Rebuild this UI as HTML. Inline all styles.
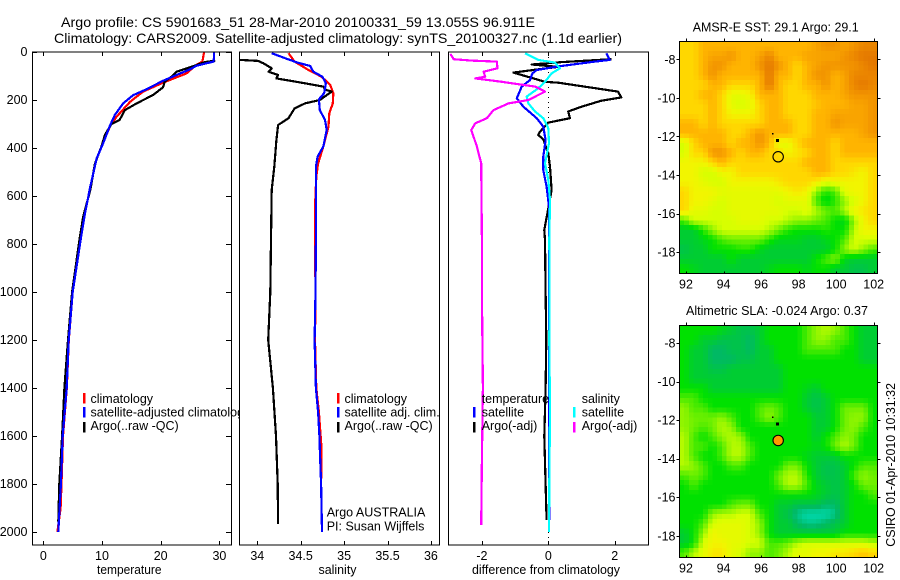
<!DOCTYPE html>
<html lang="en">
<head>
<meta charset="utf-8">
<title>Argo profile 5901683</title>
<style>
html,body{margin:0;padding:0;background:#fff;}
svg{display:block;}
text{font-family:"Liberation Sans",sans-serif;font-size:12.5px;fill:#000;}
</style>
</head>
<body>
<svg id="chart" width="900" height="580" viewBox="0 0 900 580" xmlns="http://www.w3.org/2000/svg">
<rect width="900" height="580" fill="#fff"/>
<text x="61" y="27" textLength="474" lengthAdjust="spacingAndGlyphs" style="font-size:14px">Argo profile: CS 5901683_51 28-Mar-2010 20100331_59 13.055S 96.911E</text>
<text x="54" y="43" textLength="568" lengthAdjust="spacingAndGlyphs" style="font-size:14px">Climatology: CARS2009. Satellite-adjusted climatology: synTS_20100327.nc (1.1d earlier)</text>
<g id="p1"></g>
<g id="p2"></g>
<g id="p3"></g>
<g id="m1"></g>
<g id="m2"></g>
<text x="692.7" y="31.5" textLength="166" lengthAdjust="spacingAndGlyphs">AMSR-E SST: 29.1 Argo: 29.1</text>
<text x="686" y="315" textLength="182" lengthAdjust="spacingAndGlyphs">Altimetric SLA: -0.024 Argo: 0.37</text>
<text transform="translate(895,546.7) rotate(-90)" textLength="163.7" lengthAdjust="spacingAndGlyphs">CSIRO 01-Apr-2010 10:31:32</text>
</svg>
<script>
// ---- shared axis data
const depthTicks = [0,200,400,600,800,1000,1200,1400,1600,1800,2000];
const tempTicks = [0,10,20,30];
const salTicks = [34,34.5,35,35.5,36];
const diffTicks = [-2,0,2];
const lonTicks = [92,94,96,98,100,102];
const latTicks = [8,10,12,14,16,18];

// ---- temperature panel (depth, value)
const tempClimDepth = [0,40,55,89,128,165,207,269,308,360,443,561,672,776,1000,1200,1400,1600,1800,1900,2000];
const tempClimValue = [27.4,27.1,26,24.4,20.4,17,14.8,12.5,11.4,10.5,9.1,8,7.1,6.4,5,4.35,4,3.35,3.1,2.95,2.4];
const tempArgoDepth = [36,42,57,82,100,123,147,179,214,242,283,300,346,394,464,575,686,776,1000,1200,1400,1600,1800,1957];
const tempArgoValue = [29.3,27.5,25.8,22.7,22,20.7,20.4,18.7,15.9,13.9,13,11.6,10.5,9.9,8.8,8,6.8,6.2,4.9,4.2,3.6,3.2,2.73,2.55];
const tempSatDepth = [0,20,40,57,72,96,120,155,180,214,262,304,380,443,561,672,776,1000,1200,1400,1600,1800,2000];
const tempSatValue = [29.1,29.1,29,26.1,25,22.7,20.4,17.6,15.3,13.6,12.2,11.4,10.2,9.1,8,7.1,6.4,5,4.33,3.98,3.3,3,2.55];

// ---- salinity panel (depth, value)
const salClimDepth = [5,40,75,103,137,172,214,255,311,394,464,519,644,783,1000,1200,1400,1500,1650,1800,2000];
const salClimValue = [34.36,34.43,34.59,34.74,34.84,34.875,34.87,34.83,34.82,34.76,34.7,34.68,34.665,34.665,34.67,34.665,34.68,34.71,34.74,34.735,34.745];
const salArgoDepth = [33,37,47,68,82,96,110,128,144,158,165,200,214,235,276,304,367,478,575,783,1000,1200,1400,1600,1800,1967];
const salArgoValue = [33.8,34.01,34.07,34.166,34.13,34.24,34.22,34.51,34.76,34.79,34.857,34.72,34.55,34.43,34.36,34.24,34.22,34.196,34.166,34.158,34.15,34.125,34.18,34.215,34.235,34.24];
const salSatDepth = [5,26,45,58,82,103,130,172,197,242,283,325,394,436,478,783,1000,1200,1400,1500,1600,1700,1800,2000];
const salSatValue = [34.166,34.32,34.47,34.61,34.645,34.75,34.79,34.77,34.71,34.72,34.78,34.8,34.76,34.695,34.675,34.675,34.67,34.66,34.675,34.7,34.715,34.725,34.735,34.745];

// ---- difference panel (depth, value)
const diffTArgoDepth = [30,42,52,62,72,86,100,124,128,165,189,203,228,248,276,294,332,346,364,422,478,575,651,742,783,1000,1200,1400,1600,1800,1950];
const diffTArgoValue = [1.9,0.4,-0.5,0.3,-0.3,-1.05,-0.7,-0.1,0.3,2.1,2.2,1.6,1,0.6,0.65,0,-0.25,-0.3,-0.15,0,0.05,0.1,0,-0.12,-0.1,-0.08,-0.06,-0.08,-0.12,-0.08,-0.05];
const diffTSatDepth = [5,33,40,60,75,89,117,144,193,228,276,311,367,436,492,561,644,783,1000,1400,1600,1950];
const diffTSatValue = [1.75,1.85,1.4,0.3,-0.35,-0.48,-0.55,-0.8,-0.95,-0.75,-0.35,-0.15,-0.08,-0.15,-0.15,-0.05,0.02,0.02,0.03,0.03,0.03,0.03];
const diffSSatDepth = [5,33,44,68,89,124,151,186,214,248,276,318,381,464,533,617,783,1000,1200,1500,1800,2000];
const diffSSatValue = [-0.7,-0.3,0.2,0.35,0.1,-0.1,-0.3,-0.65,-0.6,-0.4,-0.15,0,0.02,-0.1,0,0.05,0.03,0.04,0.03,0.05,0.03,0.02];
const diffSArgoDepth = [8,30,36,40,68,82,103,110,124,144,165,200,214,242,276,297,325,394,464,783,1000,1400,1700,1970];
const diffSArgoValue = [-2.95,-2.85,-2.3,-1.55,-1.53,-1.95,-1.9,-2.2,-1.4,-0.4,-0.1,-0.6,-1.2,-1.65,-1.85,-2.2,-2.32,-2.15,-2.02,-2,-2,-1.97,-2,-2.02];

// ---- map data: one row per half degree of latitude, one value per half degree of longitude
const sstGrid = [
[7,7,8,8,8,8,8,8,8,8,8,8,8,8,8.5,9,9,8.5,9,9.5,9.5],
[7,7,8,8.5,8.5,9,8,8,8.5,9.5,8,8,8,8.5,8.5,8.5,8.5,9,9.5,10,10],
[7,7,8,9,9,8,8,8,9,10,9,8,7,8,8.5,9,9,9,9,9.5,10],
[7,7,8,9,8,8,8,8,8,10,8,8,7,8,9,9,8,8.5,9.5,9.5,9.5],
[7,7,7,8,8,7,7,7,8,10,8,7,7,8,8,9,8,8.5,9.5,10,9.5],
[7,7,8,8,7,5.5,5.5,6,8,8,8,7,7,7,8,8,8,8.5,9,9,9],
[7,7,7,8,7,5.5,5,5.5,7,8,8,7,7,7,7.5,8,8,8,8.5,8.5,9],
[7,7,7,8,7,6,6,6,7,8,8,7,7,7,8,8,8.5,8.5,8.5,8.5,9],
[8,8,7,8,7,7,7,7,7,8,8,8,7,7,8,8,9,8.5,8.5,8.5,9],
[8,8,8,8,8,7,7,8,9,8,8,8,7,7,8,8,8,8,8,8.5,9],
[5,7,8,8,8,7,8,8,9,8,5.5,5.5,7,8,8,8,7,8,8,8,8],
[5,7,7,9,9,8,7,8,8,7,7,6,6.5,7,8,8,7,8,8,8,8],
[6,6,6,7,8,7,7,7,7,7,7,7,7,8,8,8,7,7,7,7,7],
[6,6,5,5,6,6,7,7,7,7,7,7,7,7,8,8,7,7,6.5,6,7],
[6,6,5.5,5,5,6,6,6,6,6,6.5,7,7,7,6.5,5.5,6,6,6,6,7],
[7,6,6,6,5.5,5.5,5.5,5.5,5.5,5.5,5.5,6,6.5,6,4,2.5,3,5.5,6,6,7],
[7,6,6,5.5,5,5.5,5.5,5.5,5.5,5.5,5,5.5,5.5,5.5,3,1.5,2.5,4,5,6,7],
[7,5.5,5.5,5,5,5.5,5.5,5.5,5.5,5.5,5.5,5,5,5.5,4.5,3.5,3,4.5,6,6.5,7],
[3,5,5,5,5,5,5.5,5.5,5.5,5,5,4.5,4,4,3.5,3,2,1.5,4,6,7],
[1,1,2.5,4,5,5,5,5,5,4.5,3.5,2.5,2,2,2,2.5,2,2,4.5,6,6],
[1,1,1.5,2,3,3.5,3.5,3.5,3.5,2.5,1.5,1.5,1.5,1,1,1.5,2,3,5,5,5],
[0.5,1,1,2,2,2,2.5,2.5,1.5,1,1,1,1,1,1,1,2,4,5,4,3],
[1,1,1,1,1,2,1,1,1,1,1,1,1,1,2,3,4,1.5,1,1,1],
[2,1.5,1,1,1,1,1,1,1,1.5,2,2,2,1.5,2,2,1,1,0.5,0.5,1]
];
const slaGrid = [
[2,2,2,2,1.5,1,0.5,0.5,1,2,2,2,2,3,4,4.5,4,3,2,1,1],
[2,2,1,1,0.5,0.5,0.5,0,1,2,2,2,2,3,4,4,3,3,2,1,1],
[2,1,1,0,0,0.5,0.5,0,1,1,2,2,2,3,3,3,3,2,2,1,1],
[2,1,1,0,0,0,0.5,0.5,1,1,2,2,2,2,2,2,2,2,2,1,1],
[2,1,1,0.5,0.5,1,1,1,1,1,1,2,2,2,2,2,2,2,2,2,2],
[2,1,1,1,1,1,1,1,1,1,1,2,2,2,2,2,2,2,2,2,2],
[2,2,2,1,1,1,1,1,1,1,1,2,2,1.5,1,2,2,2,2,2,2],
[3,3,2,2,2,2,2,2,2,2,2,2,2,1,0.5,1,2,2,2,2,2],
[4,3,3,2,2,2,2,2,3,3.5,3,2,2,1,0.5,1,2,3.5,3.5,3.5,2],
[4,3.5,3.5,3.5,4,3,2,2,3,4,3,2,2,2,1,1,2,3.5,4,4,2],
[4,3.5,3,3.5,4.5,4,2,2,2,2,2,2,2,2,1,1,2,3.5,4,3,2],
[4.5,3,2,3,4,4.5,4,2,2,2,2,2,2,2,1,2,3,4,3.5,2,2],
[4.5,3,3,2,3,4.5,4.5,3,2,2,2,2,2,2,1.5,2,3.5,4.5,3.5,2,2],
[4.5,3,2,2,3,4.5,4.5,3,2,2,2,2,2,1.5,1,1,1,2,2,2,2],
[4.5,4,3,2,2,3,3,2,2,2,2,3.5,3.5,2,1,0.5,0.5,1,2,3,3],
[3,3.5,3,2,2,2,2,2,2,2,3.5,4.5,4.5,2.5,1,0.5,0.5,1,3,4,3.5],
[2,3,2,2,2,2,2,2,2,2,3,4.5,4.5,3,1.5,1,0.5,1,2,3.5,3.5],
[2,2,2,2,2,2,2,2,2,2,2,2,2,2,1.5,1,0.5,1,2,2,3],
[2,2,2,2,2,3,3.5,3.5,2,2,1,1,0.5,0.5,0.5,0,0,1,2,2,2],
[2,2,2,4,4.5,4.5,5,5,3,2,1,0.5,-0.5,-1,-1,-1,-0.5,1,2,2,2],
[2,2,3,5,5.5,5.5,5.5,5,4,2,1,1,0,-0.5,-0.5,0,0.5,1,2,2,2],
[1,2,4,6,5.5,5.5,5.5,5,4,2,1,1,1,1,1,1,1,2,2,2,2],
[1,2,5,6,6,5.5,5.5,5,5,3,3,3.5,4.5,5,5,5,5,5,5,5,4.5],
[3,4.5,5.5,6.5,6.5,5.5,5,4,4,3,3.5,4.5,5.5,5.5,6,6,6.5,6.5,7,7.5,7]
];
const floatLon = [96.911];
const floatLat = [13.055];
const trackLon = [96.63,96.88];
const trackLat = [11.85,12.2];

// ---- legend labels
const legendTemp = ['climatology','satellite-adjusted climatology','Argo(..raw -QC)'];
const legendSal = ['climatology','satellite adj. clim.','Argo(..raw -QC)'];

const NS = 'http://www.w3.org/2000/svg';
function mk(parent, tag, attrs){
  const e = document.createElementNS(NS, tag);
  for (const k in attrs) e.setAttribute(k, attrs[k]);
  parent.appendChild(e);
  return e;
}
function txt(parent, x, y, s, anchor){
  const t = mk(parent, 'text', {x:x, y:y, 'text-anchor':anchor||'start'});
  t.textContent = s;
  return t;
}
const yDepth = d => 52 + 0.24*d;
const xTemp = v => 43.3 + 5.87*v;
const xSal = v => 257.3 + 86.8*(v-34);
const xDiff = v => 548.3 + 33.2*v;

function drawFrame(g, x0, x1){
  const r = mk(g, 'rect', {x:x0, y:52, width:x1-x0, height:493, fill:'#fff', stroke:'none'});
  
  
}
function drawBorder(g, x0, x1){
  const r = mk(g, 'rect', {x:x0, y:52, width:x1-x0, height:493, fill:'none', stroke:'#000', 'stroke-width':1, 'shape-rendering':'crispEdges'});
  
  
}
function drawXAxis(g, ticks, xf, title, titleX, titleW){
  ticks.forEach(v => {
    const x = Math.round(xf(v)) + 0.5;
    const a = mk(g, 'line', {x1:x, x2:x, y1:52, y2:56, stroke:'#000', 'shape-rendering':'crispEdges'});
    
    
    const b = mk(g, 'line', {x1:x, x2:x, y1:541, y2:545, stroke:'#000', 'shape-rendering':'crispEdges'});
    
    
    const t = txt(g, xf(v), 560, String(v), 'middle');
    
    
  });
  const t = txt(g, titleX, 574, title, 'start');
  t.setAttribute('textLength', titleW);
  t.setAttribute('lengthAdjust', 'spacingAndGlyphs');
  
  
}
function drawSeries(g, depths, values, xf, color, name){
  const pts = depths.map((d,i) => xf(values[i]).toFixed(1) + ',' + yDepth(d).toFixed(1)).join(' ');
  const p = mk(g, 'polyline', {points:pts, fill:'none', stroke:color, 'stroke-width':2.2, 'stroke-linejoin':'round', 'shape-rendering':'crispEdges'});
  
  
}
function legendRow(g, dashX, textX, row, color, label){
  const ys = [393,407,422];
  const bases = [403,416.5,430];
  if (color) {
    const r = mk(g, 'rect', {x:dashX-1, y:ys[row], width:2.4, height:10.5, fill:color, 'shape-rendering':'crispEdges'});
    
    
  }
  const t = txt(g, textX, bases[row], label);
  
  
}

// temperature panel
const p1 = document.getElementById('p1');
drawFrame(p1, 32.5, 231.5);
drawSeries(p1, tempClimDepth, tempClimValue, xTemp, '#ff0000', 'temperature-climatology-line');
drawSeries(p1, tempArgoDepth, tempArgoValue, xTemp, '#000000', 'temperature-argo-line');
drawSeries(p1, tempSatDepth, tempSatValue, xTemp, '#0000ff', 'temperature-satellite-line');
drawBorder(p1, 32.5, 231.5);
depthTicks.forEach(d => {
  const y = Math.round(yDepth(d)) + 0.5;
  const a = mk(p1, 'line', {x1:32, x2:37, y1:y, y2:y, stroke:'#000', 'shape-rendering':'crispEdges'});
  
  
  const b = mk(p1, 'line', {x1:226, x2:231, y1:y, y2:y, stroke:'#000', 'shape-rendering':'crispEdges'});
  
  
  const t = txt(p1, 27.5, yDepth(d)+4, String(d), 'end');
  
  
});
drawXAxis(p1, tempTicks, xTemp, 'temperature', 97, 64.5);
legendRow(p1, 84, 90.5, 0, '#ff0000', legendTemp[0]);
legendRow(p1, 84, 90.5, 1, '#0000ff', legendTemp[1]);
legendRow(p1, 84, 90.5, 2, '#000000', legendTemp[2]);

// salinity panel
const p2 = document.getElementById('p2');
drawFrame(p2, 239.5, 439.5);
drawSeries(p2, salClimDepth, salClimValue, xSal, '#ff0000', 'salinity-climatology-line');
drawSeries(p2, salArgoDepth, salArgoValue, xSal, '#000000', 'salinity-argo-line');
drawSeries(p2, salSatDepth, salSatValue, xSal, '#0000ff', 'salinity-satellite-line');
drawBorder(p2, 239.5, 439.5);
drawXAxis(p2, salTicks, xSal, 'salinity', 318.5, 38);
legendRow(p2, 338, 344.5, 0, '#ff0000', legendSal[0]);
legendRow(p2, 338, 344.5, 1, '#0000ff', legendSal[1]);
legendRow(p2, 338, 344.5, 2, '#000000', legendSal[2]);
const note1 = txt(p2, 326.7, 516.7, 'Argo AUSTRALIA');


const note2 = txt(p2, 326.7, 530.7, 'PI: Susan Wijffels');



// difference panel
const p3 = document.getElementById('p3');
drawFrame(p3, 448.5, 648.5);
const zero = mk(p3, 'line', {x1:xDiff(0), x2:xDiff(0), y1:52, y2:545, stroke:'#000', 'stroke-width':1, 'stroke-dasharray':'1 4', 'shape-rendering':'crispEdges'});


drawSeries(p3, diffTArgoDepth, diffTArgoValue, xDiff, '#000000', 'temperature-argo-difference-line');
drawSeries(p3, diffTSatDepth, diffTSatValue, xDiff, '#0000ff', 'temperature-satellite-difference-line');
drawSeries(p3, diffSSatDepth, diffSSatValue, xDiff, '#00ffff', 'salinity-satellite-difference-line');
drawSeries(p3, diffSArgoDepth, diffSArgoValue, xDiff, '#ff00ff', 'salinity-argo-difference-line');
drawBorder(p3, 448.5, 648.5);
drawXAxis(p3, diffTicks, xDiff, 'difference from climatology', 472, 148);
legendRow(p3, 474, 481.7, 0, null, 'temperature');
legendRow(p3, 474, 481.7, 1, '#0000ff', 'satellite');
legendRow(p3, 474, 481.7, 2, '#000000', 'Argo(-adj)');
legendRow(p3, 574, 581.7, 0, null, 'salinity');
legendRow(p3, 574, 581.7, 1, '#00ffff', 'satellite');
legendRow(p3, 574, 581.7, 2, '#ff00ff', 'Argo(-adj)');

// maps
const cmapLevels = [-1,0,1,2,3,4,5,6,7,8,9,10];
const cmapColors = [[0,215,170],[0,185,100],[0,205,50],[0,225,0],[75,235,0],[145,245,0],[215,255,0],[242,245,0],[255,215,0],[255,180,0],[242,148,0],[228,120,0]];
function cmap(v){
  let i = 0;
  while (i < cmapLevels.length-2 && v > cmapLevels[i+1]) i++;
  const f = (v-cmapLevels[i])/(cmapLevels[i+1]-cmapLevels[i]);
  const c = cmapColors[i].map((a,k) => Math.round(a + f*(cmapColors[i+1][k]-a)));
  return 'rgb(' + c.join(',') + ')';
}
// each half-degree value is shown on the quarter-degree pixel grid of the source image
function sampleGrid(grid, u, v){
  const rows = grid.length, cols = grid[0].length;
  const cu = Math.max(0, Math.min(cols-1, u)), cv = Math.max(0, Math.min(rows-1, v));
  const i = Math.min(cols-2, Math.floor(cu)), j = Math.min(rows-2, Math.floor(cv));
  const fu = cu-i, fv = cv-j;
  return (grid[j][i]*(1-fu)+grid[j][i+1]*fu)*(1-fv) + (grid[j+1][i]*(1-fu)+grid[j+1][i+1]*fu)*fv;
}
const lonX = lon => 686 + 18.77*(lon-92);
function drawMap(g, grid, top, bottom, y8, filled){
  const latY = lat => y8 + 19.28*(lat-8);
  const x0 = 679.5, x1 = 877.5;
  const nx = grid[0].length*2, ny = grid.length*2;
  const cw = (x1-x0)/nx, ch = (bottom-top)/ny;
  for (let j = 0; j < ny; j++) {
    for (let i = 0; i < nx; i++) {
      const val = sampleGrid(grid, (i+0.5)/2-0.5, (j+0.5)/2-0.5);
      const c = mk(g, 'rect', {x:x0+i*cw, y:top+j*ch, width:cw+0.6, height:ch+0.6, fill:cmap(val), 'shape-rendering':'crispEdges'});
      
      
    }
  }
  const f = mk(g, 'rect', {x:x0, y:top, width:x1-x0, height:bottom-top, fill:'none', stroke:'#000', 'shape-rendering':'crispEdges'});
  
  
  lonTicks.forEach(lon => {
    const x = Math.round(lonX(lon)) + 0.5;
    const a = mk(g, 'line', {x1:x, x2:x, y1:top-3, y2:top, stroke:'#000', 'shape-rendering':'crispEdges'});
    
    
    const b = mk(g, 'line', {x1:x, x2:x, y1:bottom-2, y2:bottom, stroke:'#000', 'shape-rendering':'crispEdges'});
    
    
    const t = txt(g, lonX(lon), bottom+15, String(lon), 'middle');
    
    
  });
  latTicks.forEach(lat => {
    const y = Math.round(latY(lat)) + 0.5;
    const a = mk(g, 'line', {x1:x0-3, x2:x0, y1:y, y2:y, stroke:'#000', 'shape-rendering':'crispEdges'});
    
    
    const b = mk(g, 'line', {x1:x1, x2:x1+3, y1:y, y2:y, stroke:'#000', 'shape-rendering':'crispEdges'});
    
    
    const t = txt(g, 675.5, latY(lat)+4.5, '-' + lat, 'end');
    
    
  });
  trackLon.forEach((lon,i) => {
    const s = i === 0 ? 1.5 : 3;
    const d = mk(g, 'rect', {x:lonX(lon)-s/2, y:latY(trackLat[i])-s/2, width:s, height:s, fill:'#000', 'shape-rendering':'crispEdges'});
    
    
  });
  const c = mk(g, 'circle', {cx:lonX(floatLon[0]), cy:latY(floatLat[0]), r:5.2, fill:filled, stroke:'#000', 'stroke-width':1.1});
  
  
}
drawMap(document.getElementById('m1'), sstGrid, 41.5, 273.5, 59.3, 'none');
drawMap(document.getElementById('m2'), slaGrid, 325.5, 557.5, 343, '#ff9900');
</script>
</body>
</html>
